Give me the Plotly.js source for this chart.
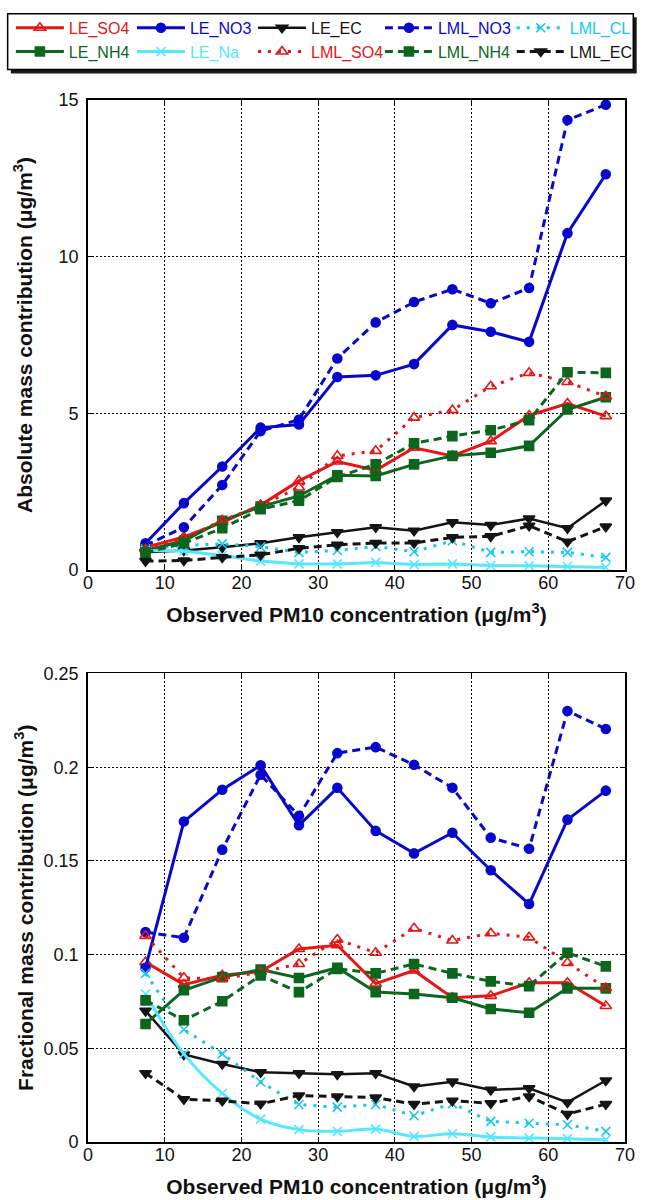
<!DOCTYPE html>
<html>
<head>
<meta charset="utf-8">
<script src="https://cdn.plot.ly/plotly-3.0.1.min.js"></script>
<style>
html,body{margin:0;padding:0;background:#fff;}
#chart{width:649px;height:1200px;}
</style>
</head>
<body>
<div id="chart"></div>
<script>
// ---------- data ----------
const pm10 = [7.5, 12.5, 17.5, 22.5, 27.5, 32.5, 37.5, 42.5, 47.5, 52.5, 57.5, 62.5, 67.5];

// absolute mass contribution (ug/m3)
const absLE_SO4  = [0.72, 1.05, 1.52, 2.07, 2.84, 3.46, 3.18, 3.90, 3.64, 4.11, 4.93, 5.31, 4.91];
const absLE_NO3  = [0.85, 2.13, 3.30, 4.54, 4.64, 6.16, 6.21, 6.57, 7.82, 7.60, 7.28, 10.75, 12.63];
const absLE_EC   = [0.56, 0.62, 0.72, 0.85, 1.04, 1.20, 1.36, 1.25, 1.52, 1.43, 1.64, 1.33, 2.21];
const absLML_NO3 = [0.78, 1.36, 2.71, 4.43, 4.80, 6.75, 7.90, 8.55, 8.96, 8.51, 9.00, 14.36, 14.85];
const absLML_CL  = [0.67, 0.78, 0.83, 0.74, 0.56, 0.62, 0.75, 0.58, 0.93, 0.56, 0.58, 0.56, 0.40];
const absLE_NH4  = [0.62, 0.93, 1.57, 2.02, 2.36, 3.02, 3.00, 3.37, 3.64, 3.74, 3.96, 5.12, 5.51];
const absLE_Na   = [0.62, 0.60, 0.46, 0.28, 0.19, 0.19, 0.24, 0.17, 0.19, 0.14, 0.13, 0.11, 0.08];
const absLML_SO4 = [0.66, 1.00, 1.58, 2.05, 2.63, 3.64, 3.80, 4.86, 5.10, 5.86, 6.29, 6.00, 5.54];
const absLML_NH4 = [0.55, 0.85, 1.33, 1.94, 2.21, 2.97, 3.37, 4.04, 4.27, 4.46, 4.78, 6.31, 6.29];
const absLML_EC  = [0.28, 0.30, 0.40, 0.48, 0.69, 0.80, 0.86, 0.86, 1.04, 1.07, 1.41, 0.90, 1.38];

// fractional mass contribution
const fracLE_SO4  = [0.096, 0.084, 0.089, 0.091, 0.103, 0.105, 0.0845, 0.0915, 0.077, 0.078, 0.085, 0.085, 0.0726];
const fracLE_NO3  = [0.093, 0.171, 0.188, 0.201, 0.169, 0.189, 0.166, 0.154, 0.165, 0.145, 0.127, 0.172, 0.1875];
const fracLE_EC   = [0.070, 0.0467, 0.0416, 0.0372, 0.0367, 0.0361, 0.0367, 0.0296, 0.0322, 0.0278, 0.0287, 0.0211, 0.0328];
const fracLML_NO3 = [0.112, 0.109, 0.156, 0.196, 0.174, 0.2075, 0.2107, 0.2013, 0.189, 0.1624, 0.1565, 0.230, 0.2204];
const fracLML_CL  = [0.090, 0.060, 0.047, 0.032, 0.020, 0.0186, 0.020, 0.014, 0.0205, 0.011, 0.010, 0.0092, 0.0057];
const fracLE_NH4  = [0.063, 0.081, 0.088, 0.092, 0.0875, 0.093, 0.080, 0.079, 0.077, 0.071, 0.069, 0.082, 0.082];
const fracLE_Na   = [0.079, 0.047, 0.026, 0.0122, 0.0066, 0.0057, 0.0069, 0.003, 0.0044, 0.0027, 0.0021, 0.0018, 0.0012];
const fracLML_SO4 = [0.110, 0.0876, 0.0871, 0.0906, 0.095, 0.108, 0.101, 0.114, 0.1075, 0.1114, 0.1092, 0.0956, 0.0822];
const fracLML_NH4 = [0.0756, 0.065, 0.0751, 0.0889, 0.080, 0.0924, 0.090, 0.095, 0.090, 0.0857, 0.0832, 0.101, 0.0937];
const fracLML_EC  = [0.0367, 0.0228, 0.022, 0.0204, 0.0248, 0.0243, 0.0237, 0.0202, 0.022, 0.0207, 0.0243, 0.0149, 0.0202];

const xTitle = 'Observed PM10 concentration (μg/m<sup>3</sup>)';
const yTitleTop = 'Absolute mass contribution (μg/m<sup>3</sup>)';
const yTitleBottom = 'Fractional mass contribution (μg/m<sup>3</sup>)';

// ---------- styles ----------
const RED = 'rgb(228,22,22)';
const BLUE = 'rgb(8,8,204)';
const BLACK = 'rgb(20,20,20)';
const GREEN = 'rgb(12,102,30)';
const CYAN = 'rgb(20,200,240)';
const LCYAN = 'rgb(85,232,255)';
const FONT = 'Liberation Sans, Arial, Helvetica, sans-serif';

const series = [
  {name:'LE_SO4',  abs:absLE_SO4,  frac:fracLE_SO4,  color:RED,   dash:'solid', width:3, sym:'triangle-up-open', size:10, legend:'legend'},
  {name:'LE_NO3',  abs:absLE_NO3,  frac:fracLE_NO3,  color:BLUE,  dash:'solid', width:3, sym:'circle', size:9, legend:'legend2'},
  {name:'LE_EC',   abs:absLE_EC,   frac:fracLE_EC,   color:BLACK, dash:'solid', width:2.5, sym:'triangle-down', size:10, legend:'legend3'},
  {name:'LML_NO3', abs:absLML_NO3, frac:fracLML_NO3, color:BLUE,  dash:'8px,5px', width:3, sym:'circle', size:9, legend:'legend4'},
  {name:'LML_CL',  abs:absLML_CL,  frac:fracLML_CL,  color:CYAN,  dash:'3px,7px', width:3, sym:'x-thin-open', size:9, legend:'legend5'},
  {name:'LE_NH4',  abs:absLE_NH4,  frac:fracLE_NH4,  color:GREEN, dash:'solid', width:3, sym:'square', size:9, legend:'legend'},
  {name:'LE_Na',   abs:absLE_Na,   frac:fracLE_Na,   color:LCYAN, dash:'solid', width:3, sym:'x-thin-open', size:9, legend:'legend2', spline:true},
  {name:'LML_SO4', abs:absLML_SO4, frac:fracLML_SO4, color:RED,   dash:'3px,7px', width:3, sym:'triangle-up-open', size:10, legend:'legend3'},
  {name:'LML_NH4', abs:absLML_NH4, frac:fracLML_NH4, color:GREEN, dash:'8px,5px', width:3, sym:'square', size:9, legend:'legend4'},
  {name:'LML_EC',  abs:absLML_EC,  frac:fracLML_EC,  color:BLACK, dash:'8px,5px', width:3, sym:'triangle-down', size:10, legend:'legend5'}
];

const traces = [];
series.forEach(s => {
  const mk = {symbol:s.sym, size:s.size, color:s.color, line:{color:s.color, width:1.6}};
  traces.push({
    x: pm10, y: s.abs, xaxis:'x', yaxis:'y', type:'scatter', mode:'lines+markers',
    name: '<span style="color:' + s.color + '">' + s.name + '</span>',
    legend: s.legend, legendgroup: s.name,
    line:{color:s.color, width:s.width, dash:s.dash},
    marker: mk
  });
  traces.push({
    x: pm10, y: s.frac, xaxis:'x2', yaxis:'y2', type:'scatter', mode:'lines+markers',
    name: s.name, showlegend:false, legendgroup: s.name,
    line:{color:s.color, width:s.width, dash:s.dash, shape: s.spline ? 'spline' : 'linear', smoothing: 1},
    marker: mk
  });
});

// ---------- layout ----------
const ML = 88, MR = 11, MT = 96, MB = 58;
const W = 649, H = 1200;
const PW = W - ML - MR, PH = H - MT - MB;
const px2x = p => (p - ML) / PW;
const py2y = p => 1 + (MT - p) / PH;

function xAxis(anchor){
  return {
    anchor: anchor, range:[0,70], dtick:10, tick0:0,
    ticks:'inside', ticklen:5, tickwidth:1, tickcolor:'#000',
    showline:true, linecolor:'#000', linewidth:1.8, mirror:'ticks',
    showgrid:true, gridcolor:'#000', gridwidth:1, griddash:'2px,2px',
    zeroline:false, ticklabelstandoff:-4,
    tickfont:{family:FONT, size:18, color:'#111'},
    title:{text:'<b>' + xTitle + '</b>', font:{family:FONT, size:21, color:'#111'}, standoff:15}
  };
}
function yAxis(anchor, range, dtick, domain, title, standoff){
  return {
    anchor: anchor, range:range, dtick:dtick, tick0:0, domain:domain,
    ticks:'inside', ticklen:5, tickwidth:1, tickcolor:'#000',
    showline:true, linecolor:'#000', linewidth:1.8, mirror:'ticks',
    showgrid:true, gridcolor:'#000', gridwidth:1, griddash:'2px,2px',
    zeroline:false, ticklabelstandoff:4,
    tickfont:{family:FONT, size:18, color:'#111'},
    title:{text:'<b>' + title + '</b>', font:{family:FONT, size:21, color:'#111'}, standoff:standoff}
  };
}

function legendAt(pxLeft){
  return {
    x: px2x(pxLeft), y: py2y(6.5), xanchor:'left', yanchor:'top', xref:'paper', yref:'paper',
    orientation:'v', bgcolor:'rgba(0,0,0,0)', borderwidth:0, itemwidth:48,
    tracegroupgap:0, font:{family:FONT, size:16, color:'#000'},
    itemclick:false, itemdoubleclick:false
  };
}

const layout = {
  width: W, height: H,
  margin:{l:ML, r:MR, t:MT, b:MB, pad:0},
  paper_bgcolor:'#fff', plot_bgcolor:'#fff',
  font:{family:FONT, color:'#111'},
  xaxis: xAxis('y'),
  yaxis: yAxis('x', [0,15], 5, [(H - MB - 567.7)/PH, 1], yTitleTop, 20),
  xaxis2: xAxis('y2'),
  yaxis2: yAxis('x2', [0,0.25], 0.05, [0, (H - MB - 671.7)/PH], yTitleBottom, 4),
  legend: legendAt(9),
  legend2: legendAt(133),
  legend3: legendAt(257),
  legend4: legendAt(387),
  legend5: legendAt(522),
  shapes: [
    {type:'rect', xref:'paper', yref:'paper', layer:'above',
     x0:px2x(9), x1:px2x(650), y0:py2y(69.5), y1:py2y(13),
     fillcolor:'#1a1a1a', line:{width:0}},
    {type:'rect', xref:'paper', yref:'paper', layer:'above',
     x0:px2x(5.7), x1:px2x(646.5), y0:py2y(65.5), y1:py2y(9.3),
     fillcolor:'#fff', line:{color:'#000', width:1.5}}
  ],
  showlegend:true
};

Plotly.newPlot('chart', traces, layout, {staticPlot:true, displayModeBar:false});
</script>
</body>
</html>
